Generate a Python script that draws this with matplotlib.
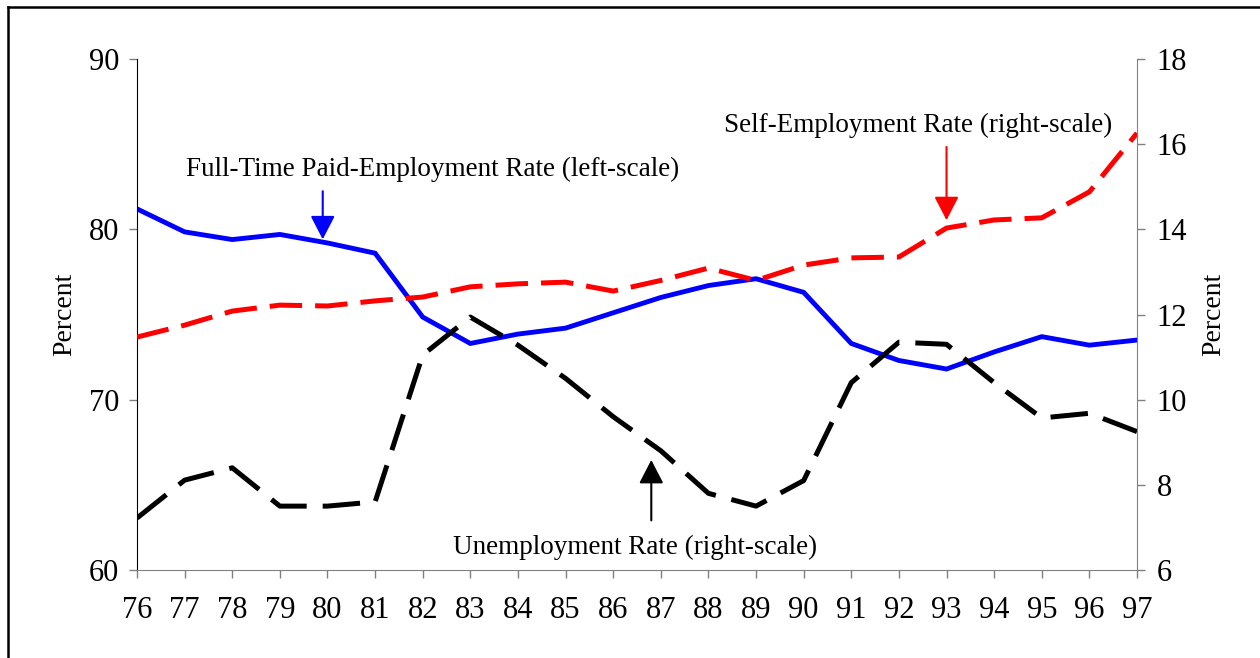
import matplotlib.pyplot as plt
from matplotlib.lines import Line2D

# data
years = list(range(76, 98))
fulltime = [81.2, 79.85, 79.4, 79.7, 79.2, 78.6, 74.85, 73.3, 73.85, 74.2, 75.1,
            76.0, 76.7, 77.1, 76.3, 73.3, 72.3, 71.8, 72.8, 73.7, 73.2, 73.5]
selfemp = [11.47, 11.75, 12.08, 12.22, 12.2, 12.32, 12.41, 12.65, 12.72, 12.76, 12.55,
           12.8, 13.09, 12.8, 13.16, 13.33, 13.35, 14.03, 14.22, 14.27, 14.88, 16.26]
unemp = [7.22, 8.11, 8.4, 7.5, 7.5, 7.6, 11.05, 11.94, 11.28, 10.5, 9.6,
         8.8, 7.8, 7.5, 8.1, 10.4, 11.35, 11.3, 10.4, 9.57, 9.68, 9.25]

plt.rcParams['font.family'] = ['Liberation Serif', 'DejaVu Serif']

fig = plt.figure(figsize=(12.6, 6.58), dpi=100)
ax = fig.add_axes([137 / 1260, 88 / 658, 1000 / 1260, 511 / 658])
ax2 = ax.twinx()

ax.plot(years, fulltime, color='#0000ff', lw=3.5, solid_joinstyle='miter')
ax2.plot(years, selfemp, color='#ff0000', lw=3.6, dashes=(6.5, 2.6),
         dash_capstyle='butt')
ax2.plot(years, unemp, color='black', lw=3.6, dashes=(7.5, 3.2),
         dash_capstyle='butt')

ax.set_xlim(76, 97)
ax.set_ylim(60, 90)
ax2.set_ylim(6, 18)
ax.set_xticks(years)
ax.set_yticks([60, 70, 80, 90])
ax2.set_yticks([6, 8, 10, 12, 14, 16, 18])

for a in (ax, ax2):
    a.spines['top'].set_visible(False)
ax.spines['left'].set_color('black')
ax.spines['bottom'].set_color('#808080')
ax.spines['right'].set_visible(False)
ax2.spines['left'].set_visible(False)
ax2.spines['bottom'].set_visible(False)
ax2.spines['right'].set_color('#808080')

ax.tick_params(axis='y', direction='out', length=6, width=1, color='#808080',
               labelsize=22, pad=7)
ax.tick_params(axis='x', direction='out', length=6, width=1, color='#808080',
               labelsize=22, pad=13)
ax2.tick_params(axis='y', direction='out', length=6, width=1, color='#808080',
                labelsize=22, pad=8)

ax.set_ylabel('Percent', fontsize=20, labelpad=8)
ax2.set_ylabel('Percent', fontsize=20, labelpad=10)

arrow_style = '-|>,head_length=1.45,head_width=0.75'

# annotations
ax.annotate('', xy=(79.9, 79.25), xytext=(79.9, 82.4),
            arrowprops=dict(arrowstyle=arrow_style, color='#0000ff', lw=1.5))
ax.text(82.2, 83.5, 'Full-Time Paid-Employment Rate (left-scale)',
        ha='center', va='center', fontsize=19.5)

ax2.annotate('', xy=(93.0, 14.15), xytext=(93.0, 16.0),
             arrowprops=dict(arrowstyle=arrow_style, color='#ff0000', lw=1.5))
ax2.text(92.4, 16.45, 'Self-Employment Rate (right-scale)',
         ha='center', va='center', fontsize=19.5)

ax2.annotate('', xy=(86.8, 8.65), xytext=(86.8, 7.1),
             arrowprops=dict(arrowstyle=arrow_style, color='black', lw=1.5))
ax2.text(86.45, 6.52, 'Unemployment Rate (right-scale)',
         ha='center', va='center', fontsize=19.5)

# outer frame
fx = 8 / 1260
fy = 1 - 7 / 658
fig.add_artist(Line2D([fx, fx], [0, fy], color='black', lw=1.8,
                      transform=fig.transFigure))
fig.add_artist(Line2D([fx, 1], [fy, fy], color='black', lw=1.8,
                      transform=fig.transFigure))

fig.savefig('out.png', dpi=100)
